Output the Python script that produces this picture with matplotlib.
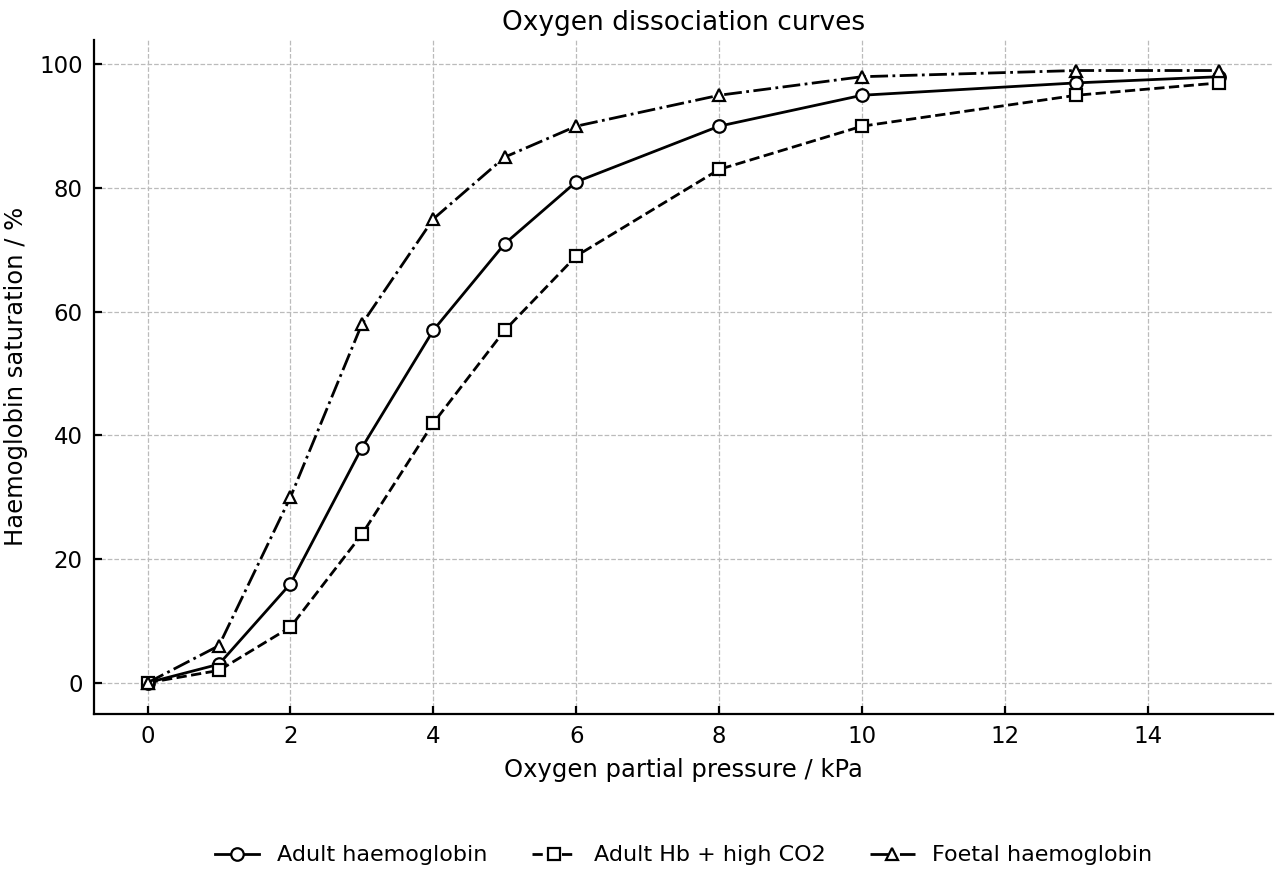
import matplotlib
matplotlib.use("Agg")
import matplotlib.pyplot as plt

# oxygen partial pressure (kPa)
po2 = [0, 1, 2, 3, 4, 5, 6, 8, 10, 13, 15]
# saturation (%)
adult = [0, 3, 16, 38, 57, 71, 81, 90, 95, 97, 98]
adult_co2 = [0, 2, 9, 24, 42, 57, 69, 83, 90, 95, 97]
foetal = [0, 6, 30, 58, 75, 85, 90, 95, 98, 99, 99]

labels = ["Adult haemoglobin", "Adult Hb + high CO2", "Foetal haemoglobin"]

plt.rcParams["font.family"] = "DejaVu Sans"
fig = plt.figure(figsize=(12.8, 8.8), dpi=100)
ax = fig.add_axes([0.0734, 0.189, 0.921, 0.766])

mk = dict(color="black", lw=2, ms=9, mfc="white", mec="black", mew=1.6)
ax.plot(po2, adult, "-", marker="o", label=labels[0], **mk)
ax.plot(po2, adult_co2, "--", marker="s", label=labels[1], **mk)
ax.plot(po2, foetal, "-.", marker="^", label=labels[2], **mk)

ax.set_xlim(-0.75, 15.75)
ax.set_ylim(-5, 104)
ax.set_xticks(range(0, 16, 2))
ax.set_yticks(range(0, 101, 20))
ax.grid(True, ls="--", color="#bbbbbb", lw=0.9)
ax.set_axisbelow(True)
for s in ("top", "right"):
    ax.spines[s].set_visible(False)
for s in ("left", "bottom"):
    ax.spines[s].set_linewidth(1.6)
ax.tick_params(direction="in", length=6, width=1.6, labelsize=16.5, pad=8)

ax.set_title("Oxygen dissociation curves", fontsize=19, pad=7)
ax.set_xlabel("Oxygen partial pressure / kPa", fontsize=17.5, labelpad=7)
ax.set_ylabel("Haemoglobin saturation / %", fontsize=17.5, labelpad=8)

fig.legend(loc="lower center", bbox_to_anchor=(0.534, -0.006), ncol=3, frameon=False,
           fontsize=16, columnspacing=2.0, handlelength=2)

fig.savefig("out.png", dpi=100)
